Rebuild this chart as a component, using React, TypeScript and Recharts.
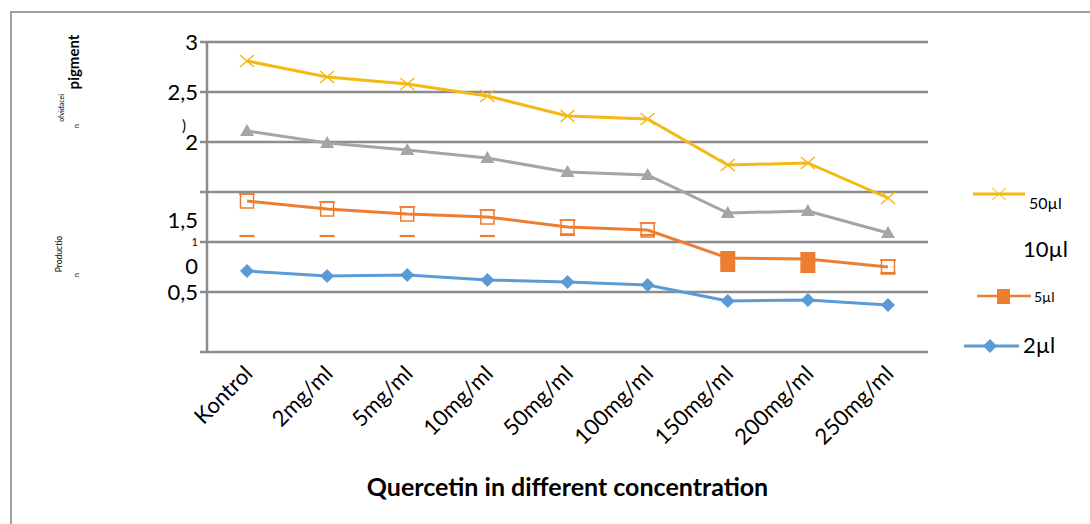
import React from "react";
import { CartesianGrid, Line, LineChart, XAxis, YAxis } from "recharts";

// values (y axis 0..3, gridlines every 0.5)
const categories = [
  "Kontrol",
  "2mg/ml",
  "5mg/ml",
  "10mg/ml",
  "50mg/ml",
  "100mg/ml",
  "150mg/ml",
  "200mg/ml",
  "250mg/ml",
];
const ul50 = [2.81, 2.65, 2.58, 2.46, 2.26, 2.23, 1.77, 1.79, 1.44];
const ul10 = [2.11, 1.99, 1.92, 1.84, 1.7, 1.67, 1.29, 1.31, 1.09];
const ul5 = [1.41, 1.33, 1.28, 1.25, 1.15, 1.12, 0.84, 0.83, 0.75];
const ul5Bar = [1.06, 1.06, 1.06, 1.06, 1.07, 1.07, null, null, 0.69];
const ul2 = [0.71, 0.66, 0.67, 0.62, 0.6, 0.57, 0.41, 0.42, 0.37];

const yTicks = [-0.1, 0.5, 1, 1.5, 2, 2.5, 3];
const yTickLabels = ["", "0,5", "1", "", "2", "2,5", "3"];
const seriesNames = ["50µl", "10µl", "5µl", "2µl"];
const filledCats = ["150mg/ml", "200mg/ml"];

const YELLOW = "#F4B914";
const GRAY = "#A5A5A5";
const ORANGE = "#ED7D31";
const BLUE = "#5B9BD5";
const GRID = "#8C8C8C";
const FONT = "Lato, 'Open Sans', sans-serif";

const data = categories.map((c, i) => ({
  cat: c,
  ul50: ul50[i],
  ul10: ul10[i],
  ul5: ul5[i],
  ul5Bar: ul5Bar[i],
  ul2: ul2[i],
}));

const XMark = (props: any) => {
  const { cx, cy } = props;
  if (cx == null || cy == null) return null;
  return (
    <g stroke={YELLOW} strokeWidth={1.6}>
      <line x1={cx - 7} y1={cy - 6} x2={cx + 7} y2={cy + 6} />
      <line x1={cx - 7} y1={cy + 6} x2={cx + 7} y2={cy - 6} />
    </g>
  );
};

const Triangle = (props: any) => {
  const { cx, cy } = props;
  if (cx == null || cy == null) return null;
  return (
    <polygon
      points={`${cx},${cy - 7} ${cx + 7},${cy + 5} ${cx - 7},${cy + 5}`}
      fill={GRAY}
    />
  );
};

const Diamond = (props: any) => {
  const { cx, cy } = props;
  if (cx == null || cy == null) return null;
  return (
    <polygon
      points={`${cx},${cy - 7} ${cx + 7},${cy} ${cx},${cy + 7} ${cx - 7},${cy}`}
      fill={BLUE}
    />
  );
};

const Square = (props: any) => {
  const { cx, cy, payload } = props;
  if (cx == null || cy == null) return null;
  if (filledCats.includes(payload.cat)) {
    return <rect x={cx - 7.5} y={cy - 7} width={15} height={21} fill={ORANGE} />;
  }
  return (
    <g stroke={ORANGE} strokeWidth={1.5} fill="none">
      <rect x={cx - 6.5} y={cy - 7} width={13} height={14} />
      <line x1={cx - 8} y1={cy - 7} x2={cx + 8} y2={cy - 7} />
    </g>
  );
};

const Dash = (props: any) => {
  const { cx, cy } = props;
  if (cx == null || cy == null) return null;
  return (
    <line
      x1={cx - 7.5}
      y1={cy}
      x2={cx + 7.5}
      y2={cy}
      stroke={ORANGE}
      strokeWidth={2.2}
    />
  );
};

const YTick = (props: any) => {
  const { x, y, index } = props;
  const label = yTickLabels[index];
  return (
    <g fontFamily={FONT} fill="#000">
      {index === 2 ? (
        <text x={x} y={y} dy={4} textAnchor="end" fontSize={11}>
          {label}
        </text>
      ) : (
        <text x={x} y={y} dy={8} textAnchor="end" fontSize={22}>
          {label}
        </text>
      )}
      {index === 2 && (
        <text x={x} y={y + 24} dy={8} textAnchor="end" fontSize={22}>
          0
        </text>
      )}
      {index === 3 && (
        <text x={x} y={y + 28} dy={8} textAnchor="end" fontSize={22}>
          1,5
        </text>
      )}
      {index === 4 && (
        <text x={x - 12} y={y - 16} dy={5} textAnchor="end" fontSize={15}>
          )
        </text>
      )}
    </g>
  );
};

const XTick = (props: any) => {
  const { x, y, payload } = props;
  return (
    <text
      x={0}
      y={0}
      transform={`translate(${x + 7},${y + 15}) rotate(-45)`}
      textAnchor="end"
      fontSize={22}
      fontFamily={FONT}
      fill="#000"
    >
      {payload.value}
    </text>
  );
};

const ChartLegend = () => (
  <svg
    width={1090}
    height={524}
    style={{ position: "absolute", left: 0, top: 0, pointerEvents: "none" }}
    fontFamily={FONT}
  >
    <line x1={973} y1={194} x2={1025} y2={194} stroke={YELLOW} strokeWidth={3} />
    <g stroke={YELLOW} strokeWidth={1.2} opacity={0.7}>
      <line x1={992} y1={188} x2={1006} y2={200} />
      <line x1={992} y1={200} x2={1006} y2={188} />
    </g>
    <text x={1029} y={209} fontSize={16}>
      {seriesNames[0]}
    </text>
    <text x={1023} y={257} fontSize={22}>
      {seriesNames[1]}
    </text>
    <line x1={977} y1={296} x2={1031} y2={296} stroke={ORANGE} strokeWidth={2.5} />
    <rect x={997} y={289} width={13} height={15} fill={ORANGE} />
    <text x={1034} y={302} fontSize={14}>
      {seriesNames[2]}
    </text>
    <line x1={964} y1={346} x2={1019} y2={346} stroke={BLUE} strokeWidth={3} />
    <polygon points="990,339 997,346 990,353 983,346" fill={BLUE} />
    <text x={1023} y={353} fontSize={22}>
      {seriesNames[3]}
    </text>
  </svg>
);

const App = () => {
  return (
    <div style={{ position: "relative", width: 1090, height: 524, background: "#fff" }}>
      <style>{"body{margin:0;background:#fff}"}</style>
      {/* outer frame, only top and left edges visible */}
      <div
        style={{
          position: "absolute",
          left: 10,
          top: 11,
          width: 1080,
          height: 513,
          borderLeft: "2px solid #A0A0A0",
          borderTop: "2px solid #A0A0A0",
        }}
      />
      <LineChart
        width={1090}
        height={524}
        data={data}
        margin={{ top: 42, right: 162, left: 147, bottom: 142 }}
      >
        <CartesianGrid
          vertical={false}
          stroke={GRID}
          strokeWidth={2.5}
          horizontalValues={yTicks}
        />
        <XAxis
          dataKey="cat"
          height={30}
          axisLine={false}
          tickLine={false}
          interval={0}
          padding={{ left: 40, right: 40 }}
          tick={<XTick />}
        />
        <YAxis
          width={60}
          type="number"
          domain={[-0.1, 3]}
          ticks={yTicks}
          interval={0}
          axisLine={{ stroke: GRID, strokeWidth: 2.5 }}
          tickLine={{ stroke: GRID, strokeWidth: 2.5 }}
          tickSize={7}
          tickMargin={2}
          tick={<YTick />}
        />
        <Line
          dataKey="ul2"
          name={seriesNames[3]}
          stroke={BLUE}
          strokeWidth={3}
          dot={<Diamond />}
          isAnimationActive={false}
        />
        <Line
          dataKey="ul5Bar"
          stroke="none"
          dot={<Dash />}
          isAnimationActive={false}
        />
        <Line
          dataKey="ul5"
          name={seriesNames[2]}
          stroke={ORANGE}
          strokeWidth={3}
          dot={<Square />}
          isAnimationActive={false}
        />
        <Line
          dataKey="ul10"
          name={seriesNames[1]}
          stroke={GRAY}
          strokeWidth={3}
          dot={<Triangle />}
          isAnimationActive={false}
        />
        <Line
          dataKey="ul50"
          name={seriesNames[0]}
          stroke={YELLOW}
          strokeWidth={3}
          dot={<XMark />}
          isAnimationActive={false}
        />
      </LineChart>
      <ChartLegend />
      {/* rotated y-axis title fragments */}
      <svg
        width={200}
        height={400}
        style={{ position: "absolute", left: 0, top: 0 }}
        fontFamily={FONT}
      >
        <text transform="translate(79,62) rotate(-90)" textAnchor="middle" fontSize={15} fontWeight="bold">
          pigment
        </text>
        <text transform="translate(64,108) rotate(-90)" textAnchor="middle" fontSize={7}>
          ofvidacei
        </text>
        <text transform="translate(79,126) rotate(-90)" textAnchor="middle" fontSize={7}>
          n
        </text>
        <text transform="translate(62,254) rotate(-90)" textAnchor="middle" fontSize={8.5}>
          Productio
        </text>
        <text transform="translate(79,275) rotate(-90)" textAnchor="middle" fontSize={7}>
          n
        </text>
      </svg>
      <div
        style={{
          position: "absolute",
          left: 207,
          width: 721,
          top: 471,
          lineHeight: 1.2,
          textAlign: "center",
          fontFamily: FONT,
          fontWeight: "bold",
          fontSize: 25,
          color: "#000",
        }}
      >
        Quercetin in different concentration
      </div>
    </div>
  );
};

export default App;
